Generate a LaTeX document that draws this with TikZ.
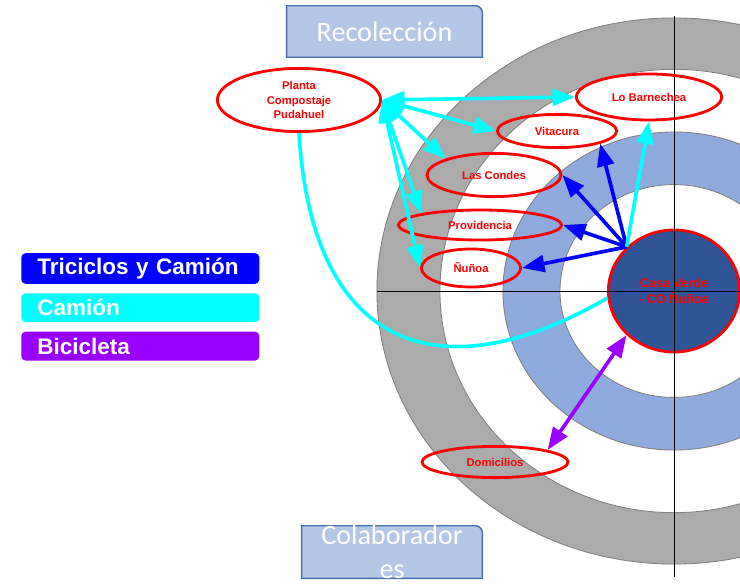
\documentclass[tikz,border=0pt]{standalone}
\usepackage{fontspec}
\setmainfont{Liberation Sans}
\newfontfamily\calibri{Carlito}
\usetikzlibrary{positioning, shapes.geometric, arrows.meta, backgrounds}

\definecolor{ringgray}{HTML}{ABABAB}
\definecolor{ringblue}{HTML}{8FAADC}
\definecolor{casablue}{HTML}{2F5597}
\definecolor{tagfill}{HTML}{B4C7E7}
\definecolor{tagline}{HTML}{4A6EA8}
\definecolor{camioncyan}{HTML}{00FFFF}
\definecolor{bicipurple}{HTML}{9900FF}

\begin{document}
\begin{tikzpicture}[
        x=0.025cm, y=-0.025cm,
        >={Triangle[length=16pt, width=12pt]},
        ring/.style={draw=gray, line width=0.6pt},
        town/.style={ellipse, draw=red, line width=2pt, inner sep=0pt, text=red, align=center, font=\fontsize{8}{10}\selectfont\bfseries},
        tag/.style={text=white, align=center, font=\calibri\fontsize{20}{24}\selectfont},
        tagframe/.style={fill=tagfill, draw=tagline, line width=1pt},
        legend/.style={rounded corners=3pt, text=white, align=left, inner xsep=0.4cm, minimum width=5.95cm, minimum height=0.72cm, text width=5.15cm, font=\fontsize{16}{18}\selectfont\bfseries},
        arrow/.style={line width=2.6pt, ->},
        duplex/.style={line width=2.6pt, <->}
      ]

    \useasboundingbox (0,0) rectangle (740,584);
    \clip (0,0) rectangle (740,584);

    % rings
    \filldraw[ring, fill=ringgray] (674,291) ellipse [x radius=7.425cm, y radius=6.825cm];
    \filldraw[ring, fill=white] (674,291) ellipse [x radius=5.85cm, y radius=5.54cm];
    \filldraw[ring, fill=ringblue] (674,291) ellipse [x radius=4.275cm, y radius=3.975cm];
    \filldraw[ring, fill=white] (674,291) ellipse [x radius=2.85cm, y radius=2.66cm];

    \node[town, fill=casablue, minimum width=3.28cm, minimum height=3.05cm, font=\fontsize{9}{12}\selectfont\bfseries] (casa) at (674,291) {Casa Verde\\- CO Ñuñoa};

    % axes
    \draw[line width=0.6pt] (377,291) -- (745,291);
    \draw[line width=0.6pt] (674,16) -- (674,577);

    \node[town, minimum width=4.08cm, minimum height=1.58cm] (planta) at (299,100) {Planta\\Compostaje\\Pudahuel};
    \node[town, minimum width=3.63cm, minimum height=1.15cm] (barnechea) at (649,97) {Lo Barnechea};
    \node[town, minimum width=2.98cm, minimum height=0.83cm] (vitacura) at (557,131) {Vitacura};
    \node[town, minimum width=3.35cm, minimum height=1.08cm] (condes) at (494,175) {Las Condes};
    \node[town, minimum width=4.08cm, minimum height=0.75cm] (providencia) at (480,225) {Providencia};
    \node[town, minimum width=2.48cm, minimum height=0.95cm] (nunoa) at (471,268) {Ñuñoa};
    \node[town, minimum width=3.65cm, minimum height=0.78cm] (domicilios) at (495,462) {Domicilios};

    \node[tag, minimum width=4.875cm, minimum height=1.275cm] (recol) at (384.5,31.5) {Recolección};
    \node[tag, minimum width=4.5cm, minimum height=1.3cm] (colab) at (392,552) {};
    \node[tag] (colabtext) at (colab.center) {Colaborador\\es};
    \begin{scope}[on background layer]
      \draw[tagframe] (recol.south west) -- (recol.north west) [rounded corners=5pt] -- (recol.north east) [sharp corners] -- (recol.south east) -- cycle;
      \draw[tagframe] (colab.south west) -- (colab.north west) [rounded corners=5pt] -- (colab.north east) [sharp corners] -- (colab.south east) -- cycle;
    \end{scope}

    % legend
    \node[legend, fill=blue, anchor=west] (tric) at (21,268.5) {Triciclos y Camión};
    \node[legend, fill=camioncyan, below=0.225cm of tric] (camion) {Camión};
    \node[legend, fill=bicipurple, below=0.225cm of camion] (bici) {Bicicleta};

    \draw[duplex, camioncyan] (planta.east) -- (barnechea.west);
    \draw[duplex, camioncyan] (planta.east) -- (vitacura.west);
    \draw[duplex, camioncyan] (planta.east) -- (condes.north west);
    \draw[duplex, camioncyan] (planta.east) -- (providencia.north west);
    \draw[duplex, camioncyan] (planta.east) -- (nunoa.west);
    \draw[line width=2.6pt, camioncyan] (planta.south) .. controls (312,350) and (440,395) .. (casa.186);

    \draw[arrow, blue] (casa.north west) -- (vitacura.south east);
    \draw[arrow, blue] (casa.north west) -- (condes.east);
    \draw[arrow, blue] (casa.north west) -- (providencia.east);
    \draw[arrow, blue] (casa.north west) -- (nunoa.east);
    \draw[arrow, camioncyan] (casa.north west) -- (barnechea.south);
    \draw[duplex, bicipurple] (casa.south west) -- (domicilios.north east);

    \end{tikzpicture}
\end{document}
